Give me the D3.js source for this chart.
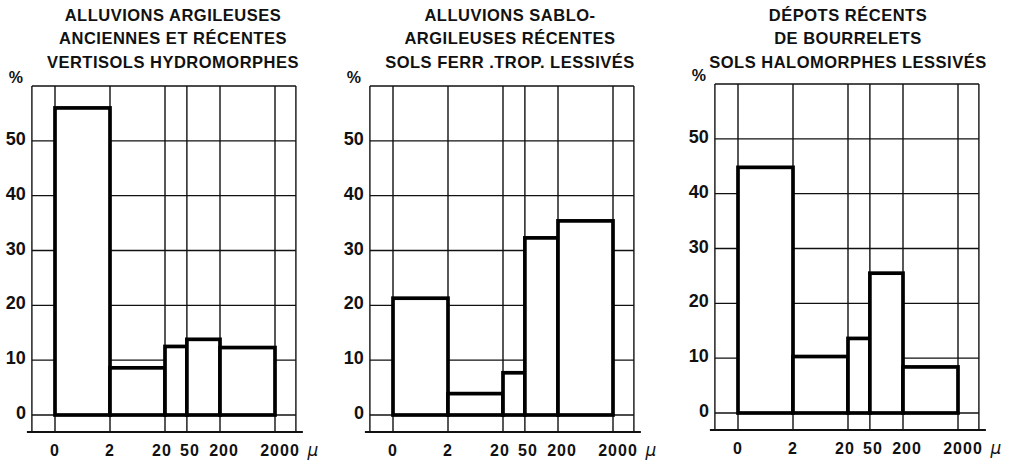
<!DOCTYPE html>
<html>
<head>
<meta charset="utf-8">
<script src="https://cdn.jsdelivr.net/npm/d3@7"></script>
<style>
  body { margin: 0; background: #fff; }
  svg { display: block; }
  text { font-family: "Liberation Sans", Arial, sans-serif; fill: #111; }
</style>
</head>
<body>
<div id="chart"></div>
<script>
// grain size class boundaries (microns)
const boundaries = [0, 2, 20, 50, 200, 2000];
const boundaryLabels = ['0', '2', '20', '50', '200', '2000'];
const yTicks = [0, 10, 20, 30, 40, 50];
const yMax = 60;

const titlesA = ['ALLUVIONS ARGILEUSES', 'ANCIENNES ET RÉCENTES', 'VERTISOLS HYDROMORPHES'];
const titlesB = ['ALLUVIONS SABLO-', 'ARGILEUSES RÉCENTES', 'SOLS FERR .TROP. LESSIVÉS'];
const titlesC = ['DÉPOTS RÉCENTS', 'DE BOURRELETS', 'SOLS HALOMORPHES LESSIVÉS'];

// percentage per class: 0-2, 2-20, 20-50, 50-200, 200-2000
const valuesA = [56, 8.6, 12.5, 13.8, 12.3];
const valuesB = [21.3, 3.9, 7.7, 32.3, 35.4];
const valuesC = [44.8, 10.3, 13.6, 25.5, 8.4];

// small nudges so the crowded 20/50/200 labels don't touch
const labelShift = [0, 0, -3, 3, 4, 5];

const svg = d3.select('#chart').append('svg')
    .attr('width', 1018)
    .attr('height', 460);

// zero-line x position, zero-line y, title centre
const panels = [
    { titles: titlesA, values: valuesA, x0: 55, y0: 415, tx: 173 },
    { titles: titlesB, values: valuesB, x0: 393, y0: 415, tx: 510 },
    { titles: titlesC, values: valuesC, x0: 738, y0: 413, tx: 848 }
];

panels.forEach(drawPanel);

function drawPanel(p) {
    const decade = 55;
    // 0 is drawn one decade left of 2
    const xLog = d3.scaleLog()
        .domain([0.2, 2000])
        .range([p.x0, p.x0 + 4 * decade]);
    const x = d => xLog(d === 0 ? 0.2 : d);

    const y = d3.scaleLinear()
        .domain([0, yMax])
        .range([p.y0, p.y0 - 329]);

    const left = p.x0 - 0.42 * decade;
    const right = xLog(2000) + 0.38 * decade;
    const bottom = p.y0 + 17;

    const g = svg.append('g');

    // title
    g.selectAll('.title')
        .data(p.titles)
        .join('text')
        .attr('class', 'title')
        .attr('x', p.tx)
        .attr('y', (d, i) => 21 + i * 23.3)
        .attr('text-anchor', 'middle')
        .style('font-size', '16.5px')
        .style('font-weight', 'bold')
        .style('letter-spacing', '0.5px')
        .text(d => d);

    // grid
    const gridX = [left].concat(boundaries.map(x)).concat([right]);
    g.selectAll('.vgrid')
        .data(gridX)
        .join('line')
        .attr('class', 'vgrid')
        .attr('x1', d => d).attr('x2', d => d)
        .attr('y1', y(yMax)).attr('y2', bottom)
        .attr('stroke', '#111')
        .attr('stroke-width', 1.4);

    g.selectAll('.hgrid')
        .data(yTicks.concat([yMax]))
        .join('line')
        .attr('class', 'hgrid')
        .attr('x1', left).attr('x2', right)
        .attr('y1', d => y(d)).attr('y2', d => y(d))
        .attr('stroke', '#111')
        .attr('stroke-width', 1.4);

    // base line
    g.append('line')
        .attr('x1', left - 5).attr('x2', right + 7)
        .attr('y1', bottom).attr('y2', bottom)
        .attr('stroke', '#111')
        .attr('stroke-width', 2);

    // bars
    g.selectAll('.bar')
        .data(p.values)
        .join('rect')
        .attr('class', 'bar')
        .attr('x', (d, i) => x(boundaries[i]))
        .attr('width', (d, i) => x(boundaries[i + 1]) - x(boundaries[i]))
        .attr('y', d => y(d))
        .attr('height', d => y(0) - y(d))
        .attr('fill', '#fff')
        .attr('stroke', '#000')
        .attr('stroke-width', 3.7);

    // y tick labels
    g.selectAll('.ylab')
        .data(yTicks)
        .join('text')
        .attr('class', 'ylab')
        .attr('x', left - 6)
        .attr('y', d => y(d) + 4)
        .attr('text-anchor', 'end')
        .style('font-size', '18px')
        .style('font-weight', 'bold')
        .text(d => d);

    g.append('text')
        .attr('x', left - 16)
        .attr('y', y(yMax) - 3)
        .attr('text-anchor', 'middle')
        .style('font-size', '16px')
        .style('font-weight', 'bold')
        .text('%');

    // x tick labels
    g.selectAll('.xlab')
        .data(boundaries)
        .join('text')
        .attr('class', 'xlab')
        .attr('x', (d, i) => x(d) + labelShift[i])
        .attr('y', bottom + 24)
        .attr('text-anchor', 'middle')
        .style('font-size', '16px')
        .style('font-weight', 'bold')
        .style('letter-spacing', '1px')
        .text((d, i) => boundaryLabels[i]);

    g.append('text')
        .attr('x', xLog(2000) + 38)
        .attr('y', bottom + 24)
        .attr('text-anchor', 'middle')
        .style('font-family', '"DejaVu Sans", sans-serif')
        .style('font-size', '17px')
        .style('font-style', 'italic')
        .text('μ');
}
</script>
</body>
</html>
